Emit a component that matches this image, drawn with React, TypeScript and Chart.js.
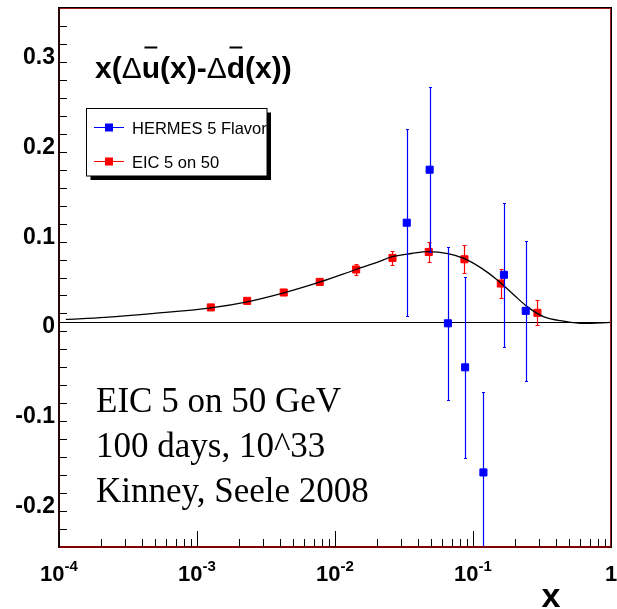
import { useEffect, useRef } from "react";
import { Chart, registerables } from "chart.js";

Chart.register(...registerables);

// Fitted curve x(Δū − Δd̄) sampled along x
const curveX = [1.12e-4, 2.15e-4, 4.92e-4, 1.26e-3, 2.31e-3, 4.25e-3, 7.82e-3, 0.01422, 0.02058, 0.02567, 0.03576, 0.0472, 0.0658, 0.0868, 0.1143, 0.1508, 0.1989, 0.2481, 0.3273, 0.456, 0.636, 0.989];
const curveY = [0.0033, 0.0056, 0.01, 0.0162, 0.0229, 0.0329, 0.0451, 0.0589, 0.0673, 0.0729, 0.0767, 0.0789, 0.0767, 0.0711, 0.0607, 0.047, 0.0303, 0.0173, 0.0062, 0.0014, -0.0011, 0.0];

// HERMES 5 Flavor points
const hermesX = [0.0331, 0.0485, 0.0658, 0.0877, 0.119, 0.1675, 0.241];
const hermesY = [0.111, 0.17, -0.001, -0.05, -0.167, 0.053, 0.0129];
const hermesErr = [0.104, 0.092, 0.085, 0.101, 0.089, 0.08, 0.078];

// EIC 5 on 50 projection
const eicX = [1.26e-3, 2.31e-3, 4.25e-3, 7.75e-3, 0.01423, 0.0261, 0.0478, 0.0867, 0.159, 0.293];
const eicY = [0.0167, 0.024, 0.0333, 0.0451, 0.0589, 0.0718, 0.0784, 0.0703, 0.0433, 0.0107];
const eicErr = [0.0015, 0.002, 0.0025, 0.003, 0.006, 0.008, 0.011, 0.0154, 0.016, 0.014];

// Axes
const xMin = 1e-4;
const xMax = 1;
const yMin = -0.25;
const yMax = 0.35;
const yMajorTicks = [-0.2, -0.1, 0, 0.1, 0.2, 0.3];
const yTickLabels = ["-0.2", "-0.1", "0", "0.1", "0.2", "0.3"];
const yMinorStep = 0.02;
const xDecades = [-4, -3, -2, -1, 0];
const xTickBases = ["10", "10", "10", "10", "1"];
const xTickExps = ["-4", "-3", "-2", "-1", ""];
const axisTitle = "x";

const legendLabels = ["HERMES 5 Flavor", "EIC 5 on 50"];
const legendColors = ["#0000ff", "#ff0000"];
const noteLines = ["EIC 5 on 50 GeV", "100 days, 10^33", "Kinney, Seele 2008"];

const SANS = "'Liberation Sans', Arial, Helvetica, sans-serif";
const SERIF = "'Liberation Serif', 'Times New Roman', serif";

const decorations = {
  id: "rootStyle",
  beforeDraw(chart: any) {
    const { ctx, width, height } = chart;
    ctx.save();
    ctx.fillStyle = "#ffffff";
    ctx.fillRect(0, 0, width, height);
    ctx.restore();
  },
  beforeDatasetsDraw(chart: any) {
    const { ctx, chartArea, scales } = chart;
    const y0 = Math.round(scales.y.getPixelForValue(0)) + 0.5;
    ctx.save();
    ctx.strokeStyle = "#000000";
    ctx.lineWidth = 1;
    ctx.beginPath();
    ctx.moveTo(chartArea.left, y0);
    ctx.lineTo(chartArea.right, y0);
    ctx.stroke();
    ctx.restore();
  },
  beforeDatasetDraw(chart: any, args: any) {
    const ds = chart.data.datasets[args.index];
    if (!ds.errors) return;
    const { ctx, chartArea, scales } = chart;
    ctx.save();
    ctx.beginPath();
    ctx.rect(chartArea.left, chartArea.top, chartArea.right - chartArea.left, chartArea.bottom - chartArea.top);
    ctx.clip();
    ctx.strokeStyle = ds.borderColor;
    ctx.lineWidth = 1.2;
    ds.data.forEach((p: any, i: number) => {
      const px = Math.round(scales.x.getPixelForValue(p.x)) + 0.5;
      const yTop = Math.round(scales.y.getPixelForValue(p.y + ds.errors[i])) + 0.5;
      const yBot = Math.round(scales.y.getPixelForValue(p.y - ds.errors[i])) + 0.5;
      const cap = ds.capHalf;
      ctx.beginPath();
      ctx.moveTo(px, yTop);
      ctx.lineTo(px, yBot);
      ctx.moveTo(px - cap, yTop);
      ctx.lineTo(px + cap, yTop);
      ctx.moveTo(px - cap, yBot);
      ctx.lineTo(px + cap, yBot);
      ctx.stroke();
    });
    ctx.restore();
  },
  afterDatasetsDraw(chart: any) {
    const { ctx, chartArea, scales } = chart;
    const { left, right, top, bottom } = chartArea;
    ctx.save();

    // frame
    ctx.lineWidth = 1;
    ctx.strokeStyle = "#000000";
    ctx.strokeRect(left - 0.5, top - 0.5, right - left + 1, bottom - top + 1);
    ctx.strokeStyle = "#a01818";
    ctx.strokeRect(left + 0.5, top + 0.5, right - left - 1, bottom - top - 1);
    ctx.lineWidth = 2;
    ctx.strokeStyle = "#2a0808";
    ctx.beginPath();
    ctx.moveTo(left, top);
    ctx.lineTo(left, bottom);
    ctx.stroke();
    ctx.strokeStyle = "#800000";
    ctx.beginPath();
    ctx.moveTo(left, bottom);
    ctx.lineTo(right, bottom);
    ctx.stroke();

    // y ticks
    ctx.lineWidth = 1;
    ctx.strokeStyle = "#000000";
    ctx.beginPath();
    const nMinor = Math.round((yMax - yMin) / yMinorStep);
    for (let k = 0; k <= nMinor; k++) {
      const v = Math.round((yMin + k * yMinorStep) * 1000) / 1000;
      if (v <= yMin || v >= yMax) continue;
      const isMajor = yMajorTicks.some((t) => Math.abs(t - v) < 1e-6);
      const py = Math.round(scales.y.getPixelForValue(v)) + 0.5;
      ctx.moveTo(left, py);
      ctx.lineTo(left + (isMajor ? 16 : 8), py);
    }
    // x ticks
    xDecades.forEach((d) => {
      for (let m = 1; m <= 9; m++) {
        const v = m * Math.pow(10, d);
        if (v > xMax * 1.0001) break;
        const px = Math.round(scales.x.getPixelForValue(v)) + 0.5;
        ctx.moveTo(px, bottom);
        ctx.lineTo(px, bottom - (m === 1 ? 16 : 8));
      }
    });
    ctx.stroke();

    // y tick labels
    ctx.fillStyle = "#000000";
    ctx.font = `bold 23px ${SANS}`;
    ctx.textAlign = "right";
    ctx.textBaseline = "alphabetic";
    yMajorTicks.forEach((v, i) => {
      const py = scales.y.getPixelForValue(v);
      ctx.fillText(yTickLabels[i], 55, py + 11);
    });

    // x tick labels with superscript exponents
    ctx.textAlign = "left";
    xDecades.forEach((d, i) => {
      const px = scales.x.getPixelForValue(Math.pow(10, d));
      ctx.font = `bold 22px ${SANS}`;
      const wb = ctx.measureText(xTickBases[i]).width;
      ctx.font = `bold 15px ${SANS}`;
      const we = xTickExps[i] ? ctx.measureText(xTickExps[i]).width : 0;
      const x0 = px - (wb + we) / 2;
      ctx.font = `bold 22px ${SANS}`;
      ctx.fillText(xTickBases[i], x0, 581);
      if (xTickExps[i]) {
        ctx.font = `bold 15px ${SANS}`;
        ctx.fillText(xTickExps[i], x0 + wb, 571);
      }
    });

    // axis title
    ctx.font = `bold 34px ${SANS}`;
    ctx.textAlign = "center";
    ctx.fillText(axisTitle, 551, 607);

    // plot title x(Δū(x)-Δd̄(x))
    const titleParts = [
      { t: "x(", w: "bold", bar: false },
      { t: "Δ", w: "normal", bar: false },
      { t: "u", w: "bold", bar: true },
      { t: "(x)-", w: "bold", bar: false },
      { t: "Δ", w: "normal", bar: false },
      { t: "d", w: "bold", bar: true },
      { t: "(x))", w: "bold", bar: false },
    ];
    ctx.textAlign = "left";
    let tx = 95;
    const tBase = 78;
    titleParts.forEach((p) => {
      ctx.font = `${p.w} 30px ${SANS}`;
      ctx.fillText(p.t, tx, tBase);
      const w = ctx.measureText(p.t).width;
      if (p.bar) {
        ctx.fillRect(tx + w * 0.15, tBase - 31.5, w * 0.7, 2);
      }
      tx += w;
    });

    // legend box with shadow
    const lx = 86.5, ly = 108.5, lw = 180.5, lh = 67.5;
    ctx.fillStyle = "#000000";
    ctx.fillRect(lx + 4, ly + 4, lw, lh);
    ctx.fillStyle = "#ffffff";
    ctx.fillRect(lx, ly, lw, lh);
    ctx.strokeStyle = "#000000";
    ctx.lineWidth = 1;
    ctx.strokeRect(lx, ly, lw, lh);
    const rowY = [127.5, 161.5];
    legendLabels.forEach((lab, i) => {
      const cy = rowY[i];
      ctx.strokeStyle = legendColors[i];
      ctx.lineWidth = 1;
      ctx.beginPath();
      ctx.moveTo(94, cy);
      ctx.lineTo(124, cy);
      ctx.stroke();
      ctx.fillStyle = legendColors[i];
      ctx.fillRect(105, cy - 4, 8, 8);
      ctx.fillStyle = "#000000";
      ctx.font = `16.5px ${SANS}`;
      ctx.textAlign = "left";
      ctx.fillText(lab, 132, cy + 6);
    });

    // annotation text
    ctx.font = `35px ${SERIF}`;
    ctx.fillStyle = "#000000";
    noteLines.forEach((line, i) => {
      ctx.fillText(line, 96, 412 + i * 45);
    });

    ctx.restore();
  },
};

export default function App() {
  const canvasRef = useRef<HTMLCanvasElement | null>(null);

  useEffect(() => {
    const canvas = canvasRef.current;
    if (!canvas) return;
    const chart = new Chart(canvas, {
      type: "scatter",
      data: {
        datasets: [
          {
            label: legendLabels[0],
            data: hermesX.map((x, i) => ({ x, y: hermesY[i] })),
            errors: hermesErr,
            capHalf: 1.5,
            pointStyle: "rect",
            pointRadius: 5,
            borderWidth: 1,
            backgroundColor: "#0000ff",
            borderColor: "#0000ff",
            showLine: false,
            order: 0,
          } as any,
          {
            label: "fit",
            data: curveX.map((x, i) => ({ x, y: curveY[i] })),
            showLine: true,
            borderColor: "#000000",
            borderWidth: 1.3,
            pointRadius: 0,
            cubicInterpolationMode: "monotone",
            fill: false,
            order: 1,
          } as any,
          {
            label: legendLabels[1],
            data: eicX.map((x, i) => ({ x, y: eicY[i] })),
            errors: eicErr,
            capHalf: 2,
            pointStyle: "rect",
            pointRadius: 5,
            borderWidth: 1,
            backgroundColor: "#ff0000",
            borderColor: "#ff0000",
            showLine: false,
            order: 2,
          } as any,
        ],
      },
      options: {
        animation: false,
        responsive: false,
        events: [],
        layout: { padding: { left: 59, top: 8, right: 3, bottom: 62 } },
        plugins: {
          legend: { display: false },
          tooltip: { enabled: false },
          title: { display: false },
        },
        scales: {
          x: { type: "logarithmic", min: xMin, max: xMax, display: false },
          y: { type: "linear", min: yMin, max: yMax, display: false },
        },
      },
      plugins: [decorations],
    });
    return () => chart.destroy();
  }, []);

  return (
    <div style={{ position: "absolute", left: 0, top: 0, width: 617, height: 609 }}>
      <canvas ref={canvasRef} width={617} height={609} style={{ display: "block" }} />
    </div>
  );
}
